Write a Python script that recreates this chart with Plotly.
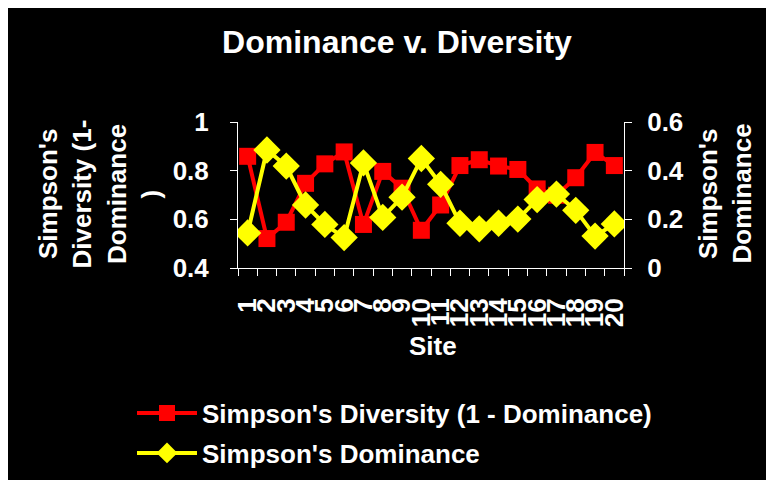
import plotly.graph_objects as go

sites = [str(i) for i in range(1, 21)]
diversity = [0.859, 0.521, 0.588, 0.748, 0.828, 0.877, 0.579, 0.797, 0.728, 0.555,
             0.659, 0.821, 0.845, 0.819, 0.805, 0.725, 0.699, 0.771, 0.875, 0.821]
dominance = [0.144, 0.485, 0.419, 0.259, 0.179, 0.125, 0.432, 0.208, 0.291, 0.450,
             0.344, 0.184, 0.161, 0.184, 0.201, 0.281, 0.304, 0.237, 0.131, 0.181]
left_title_lines = ["Simpson's", "Diversity (1-", "Dominance", ")"]
right_title_lines = ["Simpson's", "Dominance"]

FONT = "Arial, Liberation Sans, sans-serif"
FS = 26
W, H = 774, 480
OFF = 8  # page body margin offset in the screenshot

# plot area in screenshot pixels
L, R, T, B = 238, 624, 122, 272
def px_x(p):
    return (p - L) / (R - L)
def px_y(p):
    return (B - p) / (B - T)

fig = go.Figure()
fig.add_trace(go.Scatter(
    x=sites, y=diversity, mode="lines+markers",
    name="Simpson's Diversity (1 - Dominance)",
    line=dict(color="#FF0000", width=4),
    marker=dict(symbol="square", size=17, color="#FF0000"),
    legend="legend", yaxis="y"))
fig.add_trace(go.Scatter(
    x=sites, y=dominance, mode="lines+markers",
    name="Simpson's Dominance",
    line=dict(color="#FFFF00", width=4),
    marker=dict(symbol="diamond", size=21, color="#FFFF00"),
    legend="legend2", yaxis="y2"))

axis_common = dict(showgrid=False, zeroline=False, showline=True, linecolor="white",
                   linewidth=1, ticks="outside", tickcolor="white", ticklen=7,
                   automargin=False,
                   tickfont=dict(family=FONT, size=FS, color="white", weight="bold"))

annotations = []
for i, line in enumerate(left_title_lines):
    annotations.append(dict(text=line, textangle=-90, x=px_x(48 + 34.5 * i), xref="paper",
                            xanchor="center", y=px_y(196), yref="paper", yanchor="middle",
                            showarrow=False,
                            font=dict(family=FONT, size=FS, color="white", weight="bold")))
for i, line in enumerate(right_title_lines):
    annotations.append(dict(text=line, textangle=-90, x=px_x(708 + 34.5 * i), xref="paper",
                            xanchor="center", y=px_y(196), yref="paper", yanchor="middle",
                            showarrow=False,
                            font=dict(family=FONT, size=FS, color="white", weight="bold")))
annotations.append(dict(text="Site", x=px_x(433), xref="paper", xanchor="center",
                        y=px_y(352), yref="paper", yanchor="middle", showarrow=False,
                        font=dict(family=FONT, size=FS, color="white", weight="bold")))

legend_common = dict(xanchor="left", yanchor="top", itemwidth=60,
                     bgcolor="rgba(0,0,0,0)",
                     font=dict(family=FONT, size=FS, color="white", weight="bold"))

fig.update_layout(
    width=W, height=H,
    paper_bgcolor="black", plot_bgcolor="black",
    margin=dict(l=L - OFF, r=W - (R - OFF), t=T - OFF, b=H - (B - OFF)),
    font=dict(family=FONT, color="white"),
    title=dict(text="Dominance v. Diversity", x=(397 - OFF) / W, xref="container",
               xanchor="center", y=1 - (42 - OFF) / H, yref="container", yanchor="middle",
               font=dict(family=FONT, size=32, color="white", weight="bold")),
    xaxis=dict(type="category", tickson="boundaries", tickangle=-90,
               tickmode="linear", tick0=0, dtick=1, ticklabelstandoff=19,
               range=[-0.5, 19.5], **axis_common),
    yaxis=dict(range=[0.4, 1.0], dtick=0.2, tickformat="~g", ticklabelstandoff=16,
               **axis_common),
    yaxis2=dict(range=[0, 0.6], dtick=0.2, overlaying="y", side="right",
                tickformat="~g", ticklabelstandoff=10, **axis_common),
    showlegend=True,
    legend=dict(x=px_x(132), y=px_y(397), **legend_common),
    legend2=dict(x=px_x(132), y=px_y(438), **legend_common),
    annotations=annotations,
)

fig.write_html("out.html")
